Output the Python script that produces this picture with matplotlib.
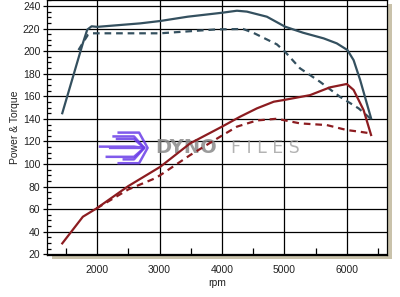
import matplotlib
matplotlib.use("Agg")
import matplotlib.pyplot as plt
from matplotlib.ticker import MultipleLocator
from matplotlib.patches import Rectangle
from matplotlib.lines import Line2D

plt.rcParams['font.family'] = ['Liberation Sans', 'DejaVu Sans']

# Power (solid blue) - modified
rpm_pw = [1440, 1690, 1770, 1840, 1910, 2000, 2690, 3010, 3450, 4000, 4240, 4400, 4720,
          5010, 5300, 5630, 5840, 6010, 6110, 6215, 6320, 6390]
pw = [145, 192, 207, 219, 222, 221.5, 224.6, 226.7, 230.5, 234, 235.8, 235, 230.5,
      221.7, 216.3, 211.3, 206.9, 201, 192, 174.4, 154, 140.5]

# Power (dashed blue) - stock
rpm_ps = [1700, 1800, 1850, 1930, 2000, 2690, 3010, 3920, 4340, 4500, 4880,
          5010, 5250, 5570, 5890, 6190, 6375]
ps = [201, 210, 214.3, 215.8, 215.8, 215.8, 215.8, 219.3, 219.6, 216.3, 206,
      199.5, 184.8, 172.9, 159.6, 149.3, 140.5]

# Torque (solid red) - modified
rpm_tm = [1440, 1770, 1990, 2500, 3010, 3490, 4000, 4290, 4560, 4830, 4990,
          5410, 5730, 6000, 6110, 6270, 6390]
tm = [29.7, 53.3, 60.7, 80.5, 97.5, 118.3, 133.1, 141.9, 149.3, 155.2, 156.7,
      161, 167.9, 170.9, 165.6, 147.8, 125.7]

# Torque (dashed red) - stock
rpm_ts = [1990, 2500, 2930, 3010, 3490, 3970, 4240, 4560, 4880, 5250, 5680,
          6000, 6210, 6375]
ts = [60.7, 77.5, 87.4, 90.1, 107.9, 124.2, 133.1, 138.6, 140.1, 136, 134.5,
      130.1, 128.6, 127.2]

x_ticks = [2000, 3000, 4000, 5000, 6000]
y_ticks = list(range(20, 241, 20))

blue = '#34505f'
red = '#8c1c20'

fig = plt.figure(figsize=(4.0, 2.97), dpi=100)
L, B, W, H = 47.3 / 400, (297 - 255) / 297, 340 / 400, 255 / 297
ax = fig.add_axes([L, B, W, H])
# shadow (right and bottom)
fig.add_artist(Rectangle((L + W, B - 3.5 / 297), 5 / 400, H, transform=fig.transFigure,
                         facecolor='#c9c2ab', edgecolor='none', zorder=-1))
fig.add_artist(Rectangle((L + 5 / 400, B - 3.5 / 297), W, 3.5 / 297, transform=fig.transFigure,
                         facecolor='#c9c2ab', edgecolor='none', zorder=-1))
ax.set_xlim(1200, 6650)
ax.set_ylim(19.4, 245.3)

ax.set_xticks(x_ticks)
ax.set_yticks(y_ticks)
ax.xaxis.set_minor_locator(MultipleLocator(500))
ax.yaxis.set_minor_locator(MultipleLocator(5))
ax.grid(True, which='major', color='black', linewidth=0.9)
ax.set_axisbelow(True)
ax.tick_params(axis='x', which='major', length=0, pad=7, labelsize=7.5, labelcolor='#222222')
ax.tick_params(axis='x', which='minor', direction='in', length=5, width=0.9)
ax.tick_params(axis='y', which='major', direction='out', length=3, width=0.9, pad=2,
               labelsize=7.5, labelcolor='#222222')
ax.tick_params(axis='y', which='minor', direction='in', length=3, width=0.9)
for s in ax.spines.values():
    s.set_color('black')
    s.set_linewidth(0.9)

ax.set_xlabel('rpm', fontsize=7.5, color='#222222', labelpad=2)
ax.set_ylabel('Power & Torque', fontsize=7.5, color='#222222', labelpad=2)

# watermark
yc = 0.42
ax.text(0.317, yc, 'DYNO', transform=ax.transAxes, fontsize=14, fontweight='bold',
        family='DejaVu Sans', color='#8a8a8a', alpha=0.85, va='center', ha='left', zorder=1)
ax.text(0.54, yc, 'F I L E S', transform=ax.transAxes, fontsize=12.5,
        family='DejaVu Sans', color='#a0a0a0', alpha=0.8, va='center', ha='left', zorder=1)
for k, (dy, x0) in enumerate([(0.04, 0.195), (0.0, 0.155), (-0.04, 0.175)]):
    ax.add_line(Line2D([x0, 0.255, 0.285, 0.255, x0 + 0.03],
                       [yc + dy + 0.005, yc + dy + 0.005, yc, yc - dy - 0.005 if dy else yc, yc - dy - 0.005 if dy else yc],
                       transform=ax.transAxes, color='#6a3de8', lw=1.8, alpha=0.85, zorder=1))
ax.add_line(Line2D([0.21, 0.27, 0.295, 0.27, 0.21],
                   [yc + 0.06, yc + 0.06, yc, yc - 0.06, yc - 0.06],
                   transform=ax.transAxes, color='#6a3de8', lw=1.8, alpha=0.85, zorder=1))

ax.plot(rpm_ps, ps, color=blue, lw=1.6, dashes=(3, 2.2), zorder=3)
ax.plot(rpm_pw, pw, color=blue, lw=1.6, zorder=4)
ax.plot(rpm_ts, ts, color=red, lw=1.6, dashes=(3, 2.2), zorder=3)
ax.plot(rpm_tm, tm, color=red, lw=1.6, zorder=4)

fig.savefig('out.png', dpi=100)
